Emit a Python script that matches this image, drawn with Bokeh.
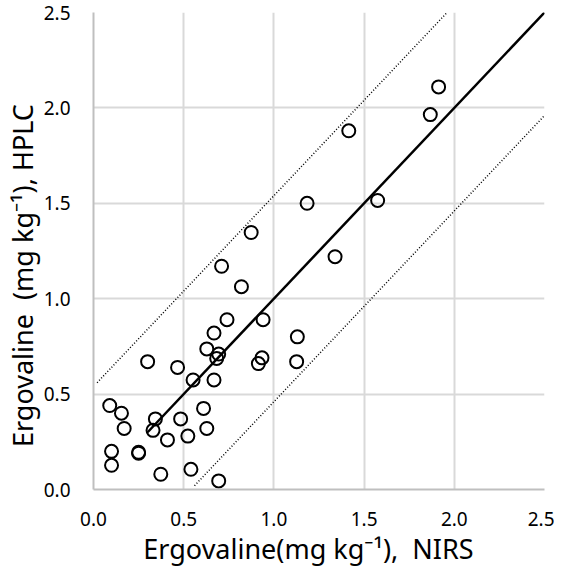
from bokeh.plotting import figure
from bokeh.models import Range1d, FixedTicker, NumeralTickFormatter
from bokeh.embed import file_html
from bokeh.resources import INLINE

# ---- data ----
nirs = [0.09, 0.155, 0.17, 0.10, 0.10, 0.25, 0.25, 0.343, 0.33, 0.30, 0.466,
        0.373, 0.41, 0.483, 0.523, 0.54, 0.61, 0.628, 0.552, 0.668, 0.694,
        0.628, 0.668, 0.74, 0.694, 0.683, 0.94, 0.934, 0.914, 1.13, 1.126,
        0.874, 1.184, 1.575, 1.339, 0.82, 0.71, 1.913, 1.867, 1.415]
hplc = [0.44, 0.40, 0.32, 0.20, 0.127, 0.19, 0.195, 0.37, 0.31, 0.67, 0.64,
        0.08, 0.26, 0.37, 0.28, 0.106, 0.425, 0.32, 0.574, 0.574, 0.045,
        0.737, 0.82, 0.89, 0.71, 0.687, 0.89, 0.69, 0.66, 0.80, 0.67,
        1.347, 1.50, 1.515, 1.22, 1.063, 1.17, 2.11, 1.965, 1.88]

one_to_one_x = [0.30, 2.50]
band = 0.54
upper_x = [0.02, 1.96]
lower_x = [0.56, 2.50]

ticks = [0.0, 0.5, 1.0, 1.5, 2.0, 2.5]
NB = "\u00a0"
x_title = "Ergovaline(mg kg\u207b\u00b9)," + NB * 2 + "NIRS" + NB * 3
y_title = "Ergovaline" + NB * 2 + "(mg kg\u207b\u00b9), HPLC" + NB * 7

FONT = "Noto Sans"

p = figure(width=554, height=569, x_range=Range1d(0, 2.5), y_range=Range1d(0, 2.5),
           output_backend="svg", toolbar_location=None,
           min_border_left=87, min_border_right=10, min_border_top=12, min_border_bottom=79)
p.outline_line_color = None
p.background_fill_color = "white"
p.border_fill_color = "white"

for ax in (p.xaxis[0], p.yaxis[0]):
    ax.ticker = FixedTicker(ticks=ticks)
    ax.formatter = NumeralTickFormatter(format="0.0")
    ax.major_tick_line_color = None
    ax.minor_tick_line_color = None
    ax.axis_line_color = "#bfbfbf"
    ax.axis_line_width = 2
    ax.major_label_text_font = FONT
    ax.major_label_text_font_size = "19px"
    ax.major_label_text_color = "black"
    ax.axis_label_text_font = FONT
    ax.axis_label_text_font_size = "27px"
    ax.axis_label_text_font_style = "normal"
    ax.axis_label_text_color = "black"

p.xaxis[0].axis_label = x_title
p.yaxis[0].axis_label = y_title
p.xaxis[0].major_label_standoff = 16
p.yaxis[0].major_label_standoff = 17
p.xaxis[0].axis_label_standoff = 1
p.yaxis[0].axis_label_standoff = 0

for g in (p.xgrid[0], p.ygrid[0]):
    g.ticker = FixedTicker(ticks=ticks)
    g.grid_line_color = "#d9d9d9"
    g.grid_line_width = 2

p.line([upper_x[0], upper_x[1]], [upper_x[0] + band, upper_x[1] + band],
       line_color="black", line_width=1.5, line_dash="1 2")
p.line([lower_x[0], lower_x[1]], [lower_x[0] - band, lower_x[1] - band],
       line_color="black", line_width=1.5, line_dash="1 2")
p.line(one_to_one_x, one_to_one_x, line_color="black", line_width=2.5)

p.scatter(nirs, hplc, marker="circle", size=13, fill_color=None,
          line_color="black", line_width=2)

open("out.html", "w").write(file_html(p, INLINE))
